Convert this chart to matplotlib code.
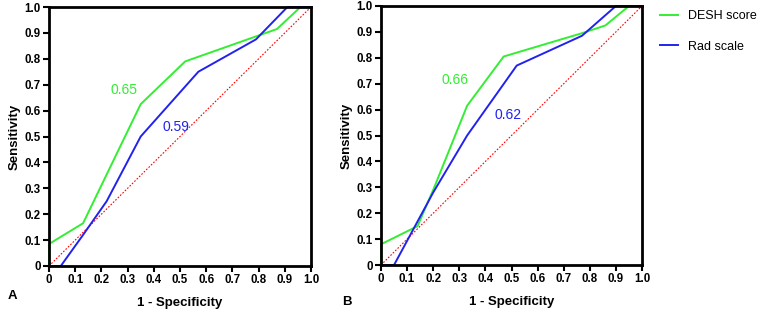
import matplotlib.pyplot as plt
import numpy as np

plt.rcParams["font.family"] = ["Liberation Sans", "DejaVu Sans"]

# panel A
a_desh_x = [0, 0, 0.13, 0.35, 0.52, 0.80, 0.87, 0.96, 1.0]
a_desh_y = [0, 0.085, 0.165, 0.625, 0.79, 0.89, 0.915, 1.0, 1.0]
a_rad_x = [0, 0.045, 0.13, 0.22, 0.35, 0.57, 0.79, 0.91, 1.0]
a_rad_y = [0, 0, 0.12, 0.25, 0.50, 0.75, 0.875, 1.0, 1.0]
a_auc = ["0.65", "0.59"]

# panel B
b_desh_x = [0, 0, 0.14, 0.20, 0.33, 0.47, 0.77, 0.86, 0.95, 1.0]
b_desh_y = [0, 0.08, 0.15, 0.29, 0.615, 0.805, 0.895, 0.925, 1.0, 1.0]
b_rad_x = [0, 0.05, 0.20, 0.33, 0.52, 0.77, 0.90, 1.0]
b_rad_y = [0, 0, 0.28, 0.50, 0.77, 0.885, 1.0, 1.0]
b_auc = ["0.66", "0.62"]

ticks = [0, 0.1, 0.2, 0.3, 0.4, 0.5, 0.6, 0.7, 0.8, 0.9, 1.0]
tick_labels = ["0", "0.1", "0.2", "0.3", "0.4", "0.5", "0.6", "0.7", "0.8", "0.9", "1.0"]

green = "#33ee33"
blue = "#2222ee"

fig = plt.figure(figsize=(7.62, 3.12), dpi=100)
axA = fig.add_axes([49 / 762, 46 / 312, 262 / 762, 259 / 312])
axB = fig.add_axes([381 / 762, 47 / 312, 261 / 762, 259 / 312])


def style(ax):
    ax.set_xlim(0, 1)
    ax.set_ylim(0, 1)
    ax.set_xticks(ticks)
    ax.set_yticks(ticks)
    ax.set_xticklabels(tick_labels, fontweight="bold", fontsize=8.3)
    ax.set_yticklabels(tick_labels, fontweight="bold", fontsize=8.3)
    for s in ax.spines.values():
        s.set_linewidth(2)
    ax.tick_params(direction="out", width=1.5, length=4, pad=2)
    ax.set_xlabel("1 - Specificity", fontweight="bold", fontsize=9.5, labelpad=8)
    ax.set_ylabel("Sensitivity", fontweight="bold", fontsize=9.5, labelpad=3)
    ax.plot([0, 1], [0, 1], color="red", linestyle=(0, (1.5, 1.5)), linewidth=0.8)


style(axA)
axA.plot(a_desh_x, a_desh_y, color=green, linewidth=1.4, clip_on=False, label="DESH score")
axA.plot(a_rad_x, a_rad_y, color=blue, linewidth=1.4, clip_on=False, label="Rad scale")
axA.text(0.285, 0.68, a_auc[0], color=green, fontsize=10, ha="center", va="center")
axA.text(0.485, 0.535, a_auc[1], color=blue, fontsize=10, ha="center", va="center")

style(axB)
axB.plot(b_desh_x, b_desh_y, color=green, linewidth=1.4, clip_on=False, label="DESH score")
axB.plot(b_rad_x, b_rad_y, color=blue, linewidth=1.4, clip_on=False, label="Rad scale")
axB.text(0.285, 0.715, b_auc[0], color=green, fontsize=10, ha="center", va="center")
axB.text(0.485, 0.58, b_auc[1], color=blue, fontsize=10, ha="center", va="center")

axB.legend(loc="upper left", bbox_to_anchor=(1.069, 0.985), frameon=False, borderpad=0,
           borderaxespad=0, fontsize=9, handlelength=1.45, handletextpad=0.75, labelspacing=1.5)

fig.text(8 / 762, 1 - 296 / 312, "A", fontweight="bold", fontsize=9.5, va="center")
fig.text(342 / 762, 1 - 302 / 312, "B", fontweight="bold", fontsize=9.5, va="center")

fig.savefig("out.png", dpi=100)
